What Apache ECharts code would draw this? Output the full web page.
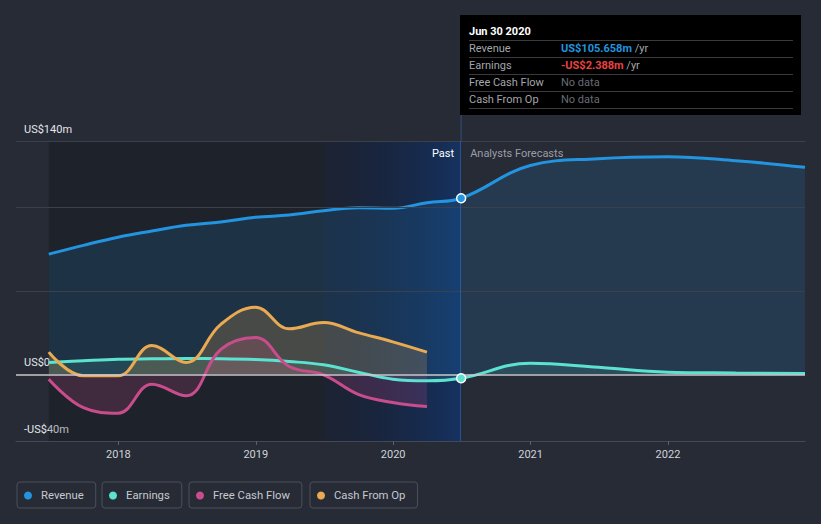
<!DOCTYPE html>
<html><head><meta charset="utf-8">
<script src="https://cdn.jsdelivr.net/npm/echarts@6/dist/echarts.min.js"></script>
<style>html,body{margin:0;padding:0;background:#262b36;}#c{width:821px;height:524px;}</style>
</head><body><div id="c"></div>
<script>
// ---------- data ----------
const seriesNames = ['Revenue', 'Earnings', 'Free Cash Flow', 'Cash From Op'];
const pastDates = ['2017-06-30','2017-09-30','2017-12-31','2018-03-31','2018-06-30','2018-09-30','2018-12-31','2019-03-31','2019-06-30','2019-09-30','2019-12-31','2020-03-31','2020-06-30'];
const forecastDates = ['2020-12-31','2021-06-30','2021-12-31','2022-06-30','2022-12-31'];
const cashDates = ['2017-06-30','2017-09-30','2017-12-31','2018-03-31','2018-06-30','2018-09-30','2018-12-31','2019-03-31','2019-06-30','2019-09-30','2019-12-31','2020-03-31'];
const revenuePast = [72.1, 77.4, 82.3, 86.0, 89.4, 91.4, 94.2, 95.6, 98.2, 100.0, 99.6, 103.0, 105.658];
const revenueForecast = [125.3, 129.4, 130.6, 128.2, 124.2];
const earningsPast = [7.1, 8.2, 9.1, 9.3, 9.5, 9.4, 8.9, 7.7, 5.7, 1.3, -2.9, -3.9, -2.388];
const earningsForecast = [6.7, 4.2, 1.3, 0.8, 0.5];
const freeCashFlow = [-2.9, -20.0, -23.3, -5.9, -12.9, 15.0, 22.1, 4.7, -0.3, -12.0, -16.9, -19.3];
const cashFromOp = [13.3, -0.9, -0.9, 17.3, 7.1, 30.0, 40.3, 27.3, 31.1, 25.0, 19.5, 13.3];
const yTickValues = [-40, 0, 140];
const yTickLabels = ['-US$40m', 'US$0', 'US$140m'];
const gridValues = [50, 100, 140];
const xTickYears = [2018, 2019, 2020, 2021, 2022];
const axisStart = '2017-04-04';
const axisEnd = '2022-12-31';
const yearAgoDate = '2019-06-30';
const nowDate = '2020-06-30';
const tipTitle = 'Jun 30 2020';
const noData = 'No data';

// ---------- helpers ----------
function fy(s) {
  const [y, m, d] = s.split('-').map(Number);
  const t = Date.UTC(y, m - 1, d), a = Date.UTC(y, 0, 1), b = Date.UTC(y + 1, 0, 1);
  return y + (t - a) / (b - a);
}
function pairs(dates, vals) { return dates.map((d, i) => [fy(d), vals[i]]); }
function money(v) { return (v < 0 ? '-' : '') + 'US$' + Math.abs(v).toFixed(3) + 'm'; }

const colors = ['#2394df', '#5ce2d0', '#c94d8c', '#e9aa52'];
const FONT = 'Roboto';

const revData = pairs(pastDates.concat(forecastDates), revenuePast.concat(revenueForecast));
const earnData = pairs(pastDates.concat(forecastDates), earningsPast.concat(earningsForecast));
const fcfData = pairs(cashDates, freeCashFlow);
const cfoData = pairs(cashDates, cashFromOp);

const nowX = fy(nowDate);
const lastRev = revenuePast[revenuePast.length - 1];
const lastEarn = earningsPast[earningsPast.length - 1];

function lineSeries(name, data, color, areaAlpha, extra) {
  return Object.assign({
    name, type: 'line', data, color,
    smooth: 0.4,
    showSymbol: false, symbol: 'none',
    lineStyle: { width: 3, color },
    areaStyle: { color: color, opacity: areaAlpha, origin: 0 },
    emphasis: { disabled: true },
    silent: true
  }, extra || {});
}

const markDot = (coord, color) => ({
  symbol: 'circle', symbolSize: 9, silent: true,
  itemStyle: { color, borderColor: '#ffffff', borderWidth: 1.5 },
  label: { show: false },
  data: [{ coord }]
});

const blueGrad = new echarts.graphic.LinearGradient(0, 0, 1, 0, [
  { offset: 0, color: 'rgba(0,10,40,0.25)' },
  { offset: 1, color: 'rgba(10,55,125,0.6)' }
]);

const series = [
  lineSeries(seriesNames[0], revData, colors[0], 0.15, {
    markArea: {
      silent: true,
      data: [
        [{ xAxis: fy(pastDates[0]), itemStyle: { color: 'rgba(0,0,0,0.2)' } }, { xAxis: fy(yearAgoDate) }],
        [{ xAxis: fy(yearAgoDate), itemStyle: { color: blueGrad },
           label: { show: true, formatter: 'Past', position: 'insideTopRight', distance: 6, color: '#ffffff', fontSize: 11, fontFamily: FONT, padding: [1, 1, 0, 0] } },
         { xAxis: nowX }],
        [{ xAxis: nowX, itemStyle: { color: 'rgba(0,0,0,0)' },
           label: { show: true, formatter: 'Analysts Forecasts', position: 'insideTopLeft', distance: 6, color: '#9a9ea6', fontSize: 11, fontFamily: FONT, padding: [1, 0, 0, 3] } },
         { xAxis: fy(axisEnd) }]
      ]
    },
    markPoint: markDot([nowX, lastRev], colors[0])
  }),
  lineSeries(seriesNames[1], earnData, colors[1], 0.12, {
    markPoint: markDot([nowX, lastEarn], colors[1])
  }),
  lineSeries(seriesNames[2], fcfData, colors[2], 0.2),
  lineSeries(seriesNames[3], cfoData, colors[3], 0.2, {
    markLine: {
      silent: true, symbol: 'none', label: { show: false },
      data: gridValues.map(v => ({ yAxis: v, lineStyle: { color: '#3b414c', width: 1, type: 'solid' } }))
        .concat([
          { yAxis: 0, lineStyle: { color: '#c8c8cc', width: 1.5, type: 'solid' } },
          { xAxis: nowX, lineStyle: { color: 'rgba(60,110,185,0.55)', width: 1, type: 'solid' } }
        ])
    }
  })
];

const legendLefts = [17, 102, 189, 310];
const legends = seriesNames.map((n, i) => ({
  data: [n], left: legendLefts[i], top: 482,
  icon: 'circle', itemWidth: 16, itemHeight: 8,
  padding: [7, 12, 6, 7],
  borderColor: '#4b515b', borderWidth: 1, borderRadius: 3,
  textStyle: { color: '#c6c9ce', fontSize: 11.3, fontFamily: FONT, lineHeight: 13 },
  selectedMode: false
}));

// tooltip-like box
const boxL = 460, boxT = 15, boxW = 341, boxH = 100;
const rowX1 = 469, rowX2 = 561, rowRight = 793;
const sepYs = [40.5, 57.5, 74.5, 91.5, 108.5];
const rowYs = [48.5, 65.5, 82.5, 99.5];
const rowValues = [
  { text: '{v|' + money(lastRev) + '} {u|/yr}', vColor: colors[0] },
  { text: '{v|' + money(lastEarn) + '} {u|/yr}', vColor: '#e8433f' },
  { text: '{n|' + noData + '}' },
  { text: '{n|' + noData + '}' }
];
const graphic = [
  { type: 'rect', silent: true, shape: { x: boxL, y: boxT, width: boxW, height: boxH }, style: { fill: '#000000' }, z: 100 },
  { type: 'text', silent: true, z: 101, style: { x: rowX1, y: 31, text: tipTitle, fill: '#ffffff', font: 'bold 11px ' + FONT, verticalAlign: 'middle' } }
];
sepYs.forEach(y => graphic.push({ type: 'line', silent: true, z: 101, shape: { x1: rowX1, y1: y, x2: rowRight, y2: y }, style: { stroke: '#3a3a3c', lineWidth: 1 } }));
seriesNames.forEach((n, i) => {
  graphic.push({ type: 'text', silent: true, z: 101, style: { x: rowX1, y: rowYs[i], text: n, fill: '#a3a6ab', font: '11px ' + FONT, verticalAlign: 'middle' } });
  const rv = rowValues[i];
  graphic.push({ type: 'text', silent: true, z: 101, style: {
    x: rowX2, y: rowYs[i], text: rv.text, verticalAlign: 'middle', font: '11px ' + FONT, fill: '#a3a6ab',
    rich: {
      v: { fill: rv.vColor || '#fff', color: rv.vColor || '#fff', font: 'bold 11px ' + FONT, fontWeight: 'bold', fontSize: 11, fontFamily: FONT },
      u: { fill: '#a3a6ab', color: '#a3a6ab', font: '11px ' + FONT, fontSize: 11, fontFamily: FONT },
      n: { fill: '#686c73', color: '#686c73', font: '11px ' + FONT, fontSize: 11, fontFamily: FONT }
    }
  } });
});

const chart = echarts.init(document.getElementById('c'), null, { renderer: 'svg' });
const option = {
  animation: false,
  backgroundColor: '#262b36',
  textStyle: { fontFamily: FONT },
  grid: { left: 16, right: 16, top: 141, bottom: 83, containLabel: false },
  xAxis: {
    type: 'value', min: fy(axisStart), max: fy(axisEnd),
    splitLine: { show: false },
    axisLine: { show: true, onZero: false, lineStyle: { color: '#434954', width: 1 } },
    axisTick: { show: true, customValues: xTickYears, length: 4, lineStyle: { color: '#5a606a' } },
    axisLabel: { customValues: xTickYears, formatter: v => String(Math.round(v)), color: '#d0d3d8', fontSize: 11, fontFamily: FONT, margin: 8 }
  },
  yAxis: {
    type: 'value', min: -40, max: 140, interval: 20,
    splitLine: { show: false }, axisLine: { show: false }, axisTick: { show: false },
    axisLabel: {
      inside: true, customValues: yTickValues,
      formatter: v => { const i = yTickValues.indexOf(v); return i >= 0 ? yTickLabels[i] : ''; },
      color: '#e4e6e9', fontSize: 11, fontFamily: FONT, verticalAlign: 'bottom', lineHeight: 12, padding: [0, 0, 6, 0], margin: 8
    }
  },
  legend: legends,
  series,
  graphic
};
chart.setOption(option);
// vertical "now" line continuing above the plot up to the info box
const px = chart.convertToPixel({ xAxisIndex: 0 }, nowX);
graphic.push({ type: 'line', silent: true, z: 1, shape: { x1: px, y1: boxT + boxH, x2: px, y2: 141 }, style: { stroke: 'rgba(60,110,185,0.55)', lineWidth: 1 } });
chart.setOption({ graphic });
</script>
</body></html>
